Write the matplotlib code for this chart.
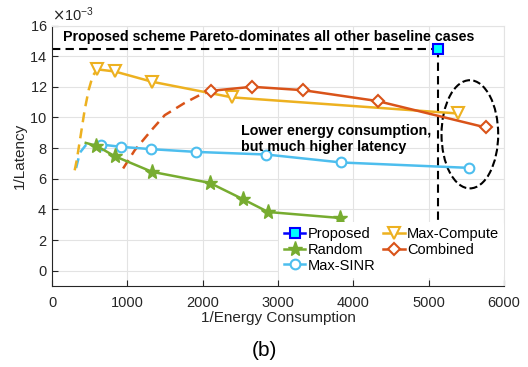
import matplotlib
matplotlib.use("Agg")
import matplotlib.pyplot as plt
from matplotlib.patches import Ellipse
from matplotlib.ticker import ScalarFormatter
import numpy as np

plt.rcParams['font.family'] = ['Liberation Sans', 'DejaVu Sans']

# data (x = 1/energy, y = 1/latency)
proposed_x = [5130]
proposed_y = [14.45e-3]

compute_x = [598, 834, 1328, 2390, 5384]
compute_y = [13.14e-3, 13.0e-3, 12.33e-3, 11.31e-3, 10.26e-3]
compute_dash_x = [301, 328, 381, 434, 487, 540, 598]
compute_dash_y = [6.55e-3, 7.2e-3, 8.84e-3, 10.5e-3, 11.8e-3, 12.7e-3, 13.14e-3]

random_x = [590, 833, 1328, 2094, 2537, 2869, 3821]
random_y = [8.15e-3, 7.47e-3, 6.45e-3, 5.73e-3, 4.66e-3, 3.83e-3, 3.44e-3]
random_dash_x = [448, 590]
random_dash_y = [8.34e-3, 8.15e-3]

combined_x = [2117, 2656, 3333, 4321, 5755]
combined_y = [11.74e-3, 12.0e-3, 11.78e-3, 11.07e-3, 9.35e-3]
combined_dash_x = [944, 1098, 1320, 1497, 1762, 1961, 2117]
combined_dash_y = [6.67e-3, 7.86e-3, 9.17e-3, 10.15e-3, 10.95e-3, 11.46e-3, 11.74e-3]

sinr_x = [656, 921, 1320, 1918, 2847, 3843, 5534]
sinr_y = [8.23e-3, 8.08e-3, 7.93e-3, 7.75e-3, 7.58e-3, 7.06e-3, 6.71e-3]
sinr_dash_x = [320, 370, 450, 656]
sinr_dash_y = [6.7e-3, 7.7e-3, 8.2e-3, 8.23e-3]

c_blue = "#0000FF"
c_yellow = "#EDB120"
c_green = "#77AC30"
c_red = "#D95319"
c_sky = "#4DBEEE"

fig = plt.figure(figsize=(5.28, 3.67), dpi=100)
ax = fig.add_axes([0.0985, 0.2207, 0.856, 0.7098])

lw = 1.8
dash = (4, 2.5)

# dashed lead-in curves
ax.plot(sinr_dash_x, sinr_dash_y, '--', color=c_sky, lw=lw, dashes=dash)
ax.plot(compute_dash_x, compute_dash_y, '--', color=c_yellow, lw=lw, dashes=dash)
ax.plot(combined_dash_x, combined_dash_y, '--', color=c_red, lw=lw, dashes=dash)
ax.plot(random_dash_x, random_dash_y, '-', color=c_green, lw=lw)

# pareto markers (vertical guide disappears behind the legend)
ax.plot([0, proposed_x[0]], [proposed_y[0], proposed_y[0]], '--', color='k', lw=1.5, dashes=dash)
ax.plot([proposed_x[0], proposed_x[0]], [proposed_y[0], 3.0e-3], '--', color='k', lw=1.5, dashes=dash)
ax.add_patch(Ellipse((5547, 8.9e-3), 752, 7.06e-3, fill=False, ls='--', lw=1.5,
                     edgecolor='k'))

h_comp, = ax.plot(compute_x, compute_y, '-v', color=c_yellow, lw=lw, ms=8,
                  mfc='white', mew=1.5, label='Max-Compute')
h_comb, = ax.plot(combined_x, combined_y, '-D', color=c_red, lw=lw, ms=6.5,
                  mfc='white', mew=1.5, label='Combined')
h_sinr, = ax.plot(sinr_x, sinr_y, '-o', color=c_sky, lw=lw, ms=7,
                  mfc='white', mew=1.5, label='Max-SINR')
h_rand, = ax.plot(random_x, random_y, '-*', color=c_green, lw=lw, ms=11,
                  mfc=c_green, label='Random')
h_prop, = ax.plot(proposed_x, proposed_y, '-s', color=c_blue, lw=lw, ms=6.5,
                  mfc='cyan', mew=1.5, label='Proposed', zorder=5)

ax.text(150, 15.25e-3, 'Proposed scheme Pareto-dominates all other baseline cases',
        fontsize=10.3, fontweight='bold', va='center')
ax.text(2510, 8.6e-3, 'Lower energy consumption,\nbut much higher latency',
        fontsize=10.3, fontweight='bold', va='center', linespacing=1.2)

ax.set_xlim(0, 6000)
ax.set_ylim(-1e-3, 16e-3)
ax.set_xticks(np.arange(0, 6001, 1000))
ax.set_yticks(np.arange(0, 16.1e-3, 2e-3))
fmt = ScalarFormatter(useMathText=True)
fmt.set_powerlimits((-3, -3))
ax.yaxis.set_major_formatter(fmt)
ax.yaxis.get_offset_text().set_fontsize(10.5)
ax.yaxis.get_offset_text().set_color('#262626')

ax.grid(True, color='#e3e3e3', lw=0.8)
ax.set_axisbelow(True)
for s in ['top', 'right']:
    ax.spines[s].set_color('#e3e3e3')
for s in ['left', 'bottom']:
    ax.spines[s].set_color('#262626')
ax.tick_params(direction='in', labelsize=10.5, colors='#262626', length=4)
ax.tick_params(axis='x', pad=7)

ax.set_xlabel('1/Energy Consumption', fontsize=11, color='#262626', labelpad=1)
ax.set_ylabel('1/Latency', fontsize=11, color='#262626', labelpad=2)

leg = ax.legend(handles=[h_prop, h_rand, h_sinr, h_comp, h_comb], ncol=2,
                loc='lower left', bbox_to_anchor=(0.485, 0.004), frameon=True,
                fontsize=10.5, handlelength=1.5, handletextpad=0.15,
                columnspacing=0.5, labelspacing=0.12, borderpad=0.35)
leg.get_frame().set_edgecolor('none')
leg.get_frame().set_facecolor('white')
leg.get_frame().set_alpha(1)
leg.set_zorder(10)

fig.text(0.5, 0.045, '(b)', fontsize=15, ha='center', va='center')

fig.savefig('out.png', dpi=100)
